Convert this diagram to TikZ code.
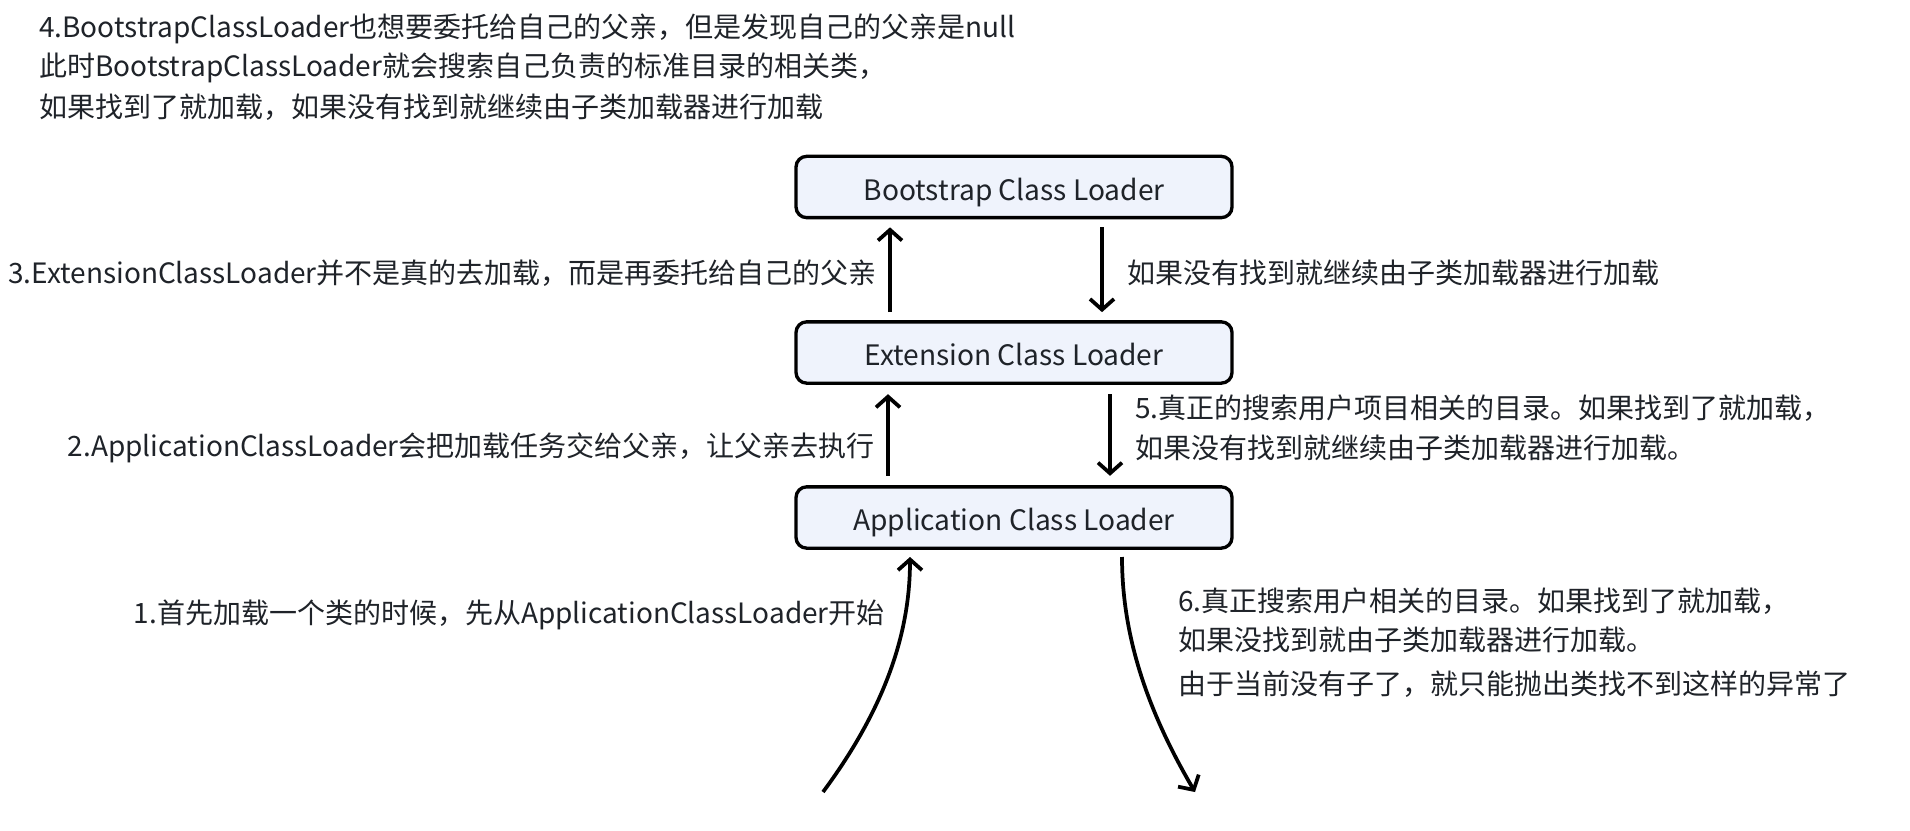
\documentclass[tikz,border=0pt]{standalone}
\usepackage{fontspec}
\setmainfont{Noto Sans CJK SC}
\usetikzlibrary{arrows.meta}
\definecolor{txt}{RGB}{31,35,41}
\definecolor{boxfill}{RGB}{239,243,252}
\begin{document}
\begin{tikzpicture}[x=0.75pt,y=-0.75pt,
  loader/.style={draw=black,line width=2.5pt,rounded corners=8pt,fill=boxfill,
    minimum width=327pt,minimum height=46pt,inner sep=0pt,text=txt,
    text height=21pt,text depth=1.3pt,
    font=\fontsize{21.1}{25}\selectfont},
  lbl/.style={text=txt,inner sep=0pt,font=\fontsize{21}{25}\selectfont},
  arr/.style={line width=2.8pt,-{Straight Barb[length=8pt,width=18pt,line width=2.8pt]}}]
\useasboundingbox[fill=white] (0,0) rectangle (1910,831);

\node[loader] (boot) at (1014,187) {Bootstrap Class Loader};
\node[loader] (ext) at (1014,352.5) {Extension Class Loader};
\node[loader] (app) at (1014,517.5) {Application Class Loader};

\coordinate (xa) at (890,0);
\coordinate (xb) at (1102,0);
\coordinate (xc) at (888,0);
\coordinate (xd) at (1110,0);

\draw[arr,shorten <=6pt,shorten >=6pt] (ext.north -| xa) -- (boot.south -| xa);
\draw[arr,shorten <=6pt,shorten >=6pt] (boot.south -| xb) -- (ext.north -| xb);
\draw[arr,shorten <=7pt,shorten >=7pt] (app.north -| xc) -- (ext.south -| xc);
\draw[arr,shorten <=7pt,shorten >=7pt] (ext.south -| xd) -- (app.north -| xd);

\coordinate (s1) at (823,792);
\coordinate (a1) at (910,557);
\coordinate (a6) at (1122,557);
\coordinate (e6) at (1195,792);
\draw[arr] (s1) .. controls (880,715) and (910,640) .. (a1);
\draw[arr] (a6) .. controls (1122,640) and (1150,715) .. (e6);

\node[lbl,anchor=west] (t4a) at (39,29) {4.BootstrapClassLoader也想要委托给自己的父亲，但是发现自己的父亲是null};
\node[lbl,anchor=west] (t4b) at (39,68) {此时BootstrapClassLoader就会搜索自己负责的标准目录的相关类，};
\node[lbl,anchor=west] (t4c) at (39,107) {如果找到了就加载，如果没有找到就继续由子类加载器进行加载};

\node[lbl,anchor=east] (t3) at (877,273) {3.ExtensionClassLoader并不是真的去加载，而是再委托给自己的父亲};
\node[lbl,anchor=west] (t3r) at (1127,273) {如果没有找到就继续由子类加载器进行加载};

\node[lbl,anchor=east] (t2) at (875,448) {2.ApplicationClassLoader会把加载任务交给父亲，让父亲去执行};
\node[lbl,anchor=west] (t5a) at (1135,408) {5.真正的搜索用户项目相关的目录。如果找到了就加载，};
\node[lbl,anchor=west] (t5b) at (1135,448) {如果没有找到就继续由子类加载器进行加载。};

\node[lbl,anchor=east] (t1) at (885,615) {1.首先加载一个类的时候，先从ApplicationClassLoader开始};
\node[lbl,anchor=west] (t6a) at (1178,601) {6.真正搜索用户相关的目录。如果找到了就加载，};
\node[lbl,anchor=west] (t6b) at (1178,640) {如果没找到就由子类加载器进行加载。};
\node[lbl,anchor=west] (t6c) at (1178,684) {由于当前没有子了，就只能抛出类找不到这样的异常了};
\end{tikzpicture}
\end{document}
